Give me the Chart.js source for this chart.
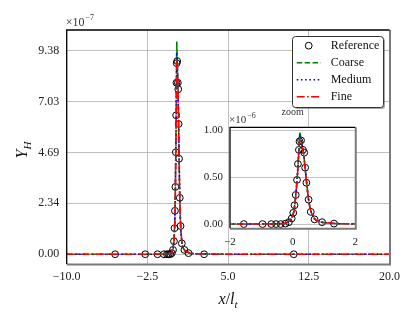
<!DOCTYPE html>
<html>
<head>
<meta charset="utf-8">
<script src="https://cdn.jsdelivr.net/npm/chart.js@4.4.1/dist/chart.umd.min.js"></script>
<style>
html,body{margin:0;padding:0;background:#fff;}
#wrap{position:relative;width:416px;height:323px;}
canvas{position:absolute;}
</style>
</head>
<body>
<div id="wrap">
<canvas id="main" width="416" height="323" style="left:0;top:0"></canvas>
<canvas id="inset" width="180" height="150" style="left:185px;top:100px"></canvas>
</div>
<script>
// ---- data (Y_H in units of 1e-6) ----
const refX = [-5.5, -2.7, -1.56, -0.96, -0.68, -0.53, -0.38, -0.23, -0.12, -0.03, 0.02, 0.06, 0.10, 0.14, 0.17, 0.20, 0.22, 0.27, 0.33, 0.37, 0.40, 0.44, 0.51, 0.58, 0.70, 0.94, 1.32, 2.77, 11.1];
const refY = [0, 0, 0, 0, 0, 0, 0, 0.005, 0.02, 0.06, 0.12, 0.20, 0.31, 0.47, 0.64, 0.79, 0.88, 0.89, 0.79, 0.76, 0.60, 0.44, 0.26, 0.13, 0.05, 0.02, 0.005, 0, 0];

const curveX = [-10, -5, -2, -1, -0.5, -0.3, -0.2, -0.1, -0.05, 0, 0.05, 0.1, 0.15, 0.2, 0.23, 0.27, 0.3, 0.35, 0.4, 0.45, 0.5, 0.55, 0.6, 0.7, 0.8, 1.0, 1.5, 2, 5, 10, 20];
const coarseY = [0, 0, 0, 0.001, 0.003, 0.006, 0.012, 0.035, 0.06, 0.09, 0.16, 0.31, 0.52, 0.80, 0.98, 0.90, 0.85, 0.76, 0.60, 0.43, 0.28, 0.18, 0.12, 0.055, 0.03, 0.015, 0.004, 0.002, 0, 0, 0];
const mediumY = [0, 0, 0, 0.001, 0.003, 0.006, 0.011, 0.03, 0.055, 0.085, 0.15, 0.30, 0.50, 0.78, 0.93, 0.89, 0.84, 0.76, 0.60, 0.43, 0.28, 0.18, 0.12, 0.055, 0.03, 0.015, 0.004, 0.002, 0, 0, 0];
const fineY = [0, 0, 0, 0.001, 0.003, 0.006, 0.011, 0.03, 0.05, 0.08, 0.14, 0.29, 0.49, 0.77, 0.90, 0.88, 0.84, 0.75, 0.59, 0.43, 0.28, 0.18, 0.12, 0.055, 0.03, 0.015, 0.004, 0.002, 0, 0, 0];

const seriesLabels = ['Reference', 'Coarse', 'Medium', 'Fine'];

// main axes ticks (y in units of 1e-7)
const mainXTicks = [-10, -2.5, 5, 12.5, 20];
const mainXTickLabels = ['\u221210.0', '\u22122.5', '5.0', '12.5', '20.0'];
const mainYTicks = [0, 2.345, 4.69, 7.035, 9.38];
const mainYTickLabels = ['0.00', '2.34', '4.69', '7.03', '9.38'];
// inset ticks (y in units of 1e-6)
const insetXTicks = [-2, 0, 2];
const insetXTickLabels = ['\u22122', '0', '2'];
const insetYTicks = [0, 0.5, 1.0];
const insetYTickLabels = ['0.00', '0.50', '1.00'];

// ---- styles ----
const SERIF = '"Liberation Serif", "Times New Roman", serif';
const styles = [
  {color: '#000000'},
  {color: '#008000', dash: [5.5, 2.4]},
  {color: '#0000ff', dash: [1.6, 2.6]},
  {color: '#ff0000', dash: [8, 2.4, 1.6, 2.4]}
];

function buildDatasets(scale) {
  const pts = (xs, ys) => xs.map((x, i) => ({x: x, y: ys[i] * scale}));
  return [
    {label: seriesLabels[0], data: pts(refX, refY), showLine: false, pointStyle: 'circle', pointRadius: 3.4,
     pointBorderColor: '#000', pointBackgroundColor: 'rgba(0,0,0,0)', pointBorderWidth: 1, order: 4},
    {label: seriesLabels[1], data: pts(curveX, coarseY), showLine: true, borderColor: styles[1].color,
     borderWidth: 1.6, borderDash: styles[1].dash, pointRadius: 0, order: 3},
    {label: seriesLabels[2], data: pts(curveX, mediumY), showLine: true, borderColor: styles[2].color,
     borderWidth: 1.6, borderDash: styles[2].dash, pointRadius: 0, order: 2},
    {label: seriesLabels[3], data: pts(curveX, fineY), showLine: true, borderColor: styles[3].color,
     borderWidth: 1.6, borderDash: styles[3].dash, pointRadius: 0, order: 1}
  ];
}

function spines(ctx, a) {
  ctx.save();
  ctx.strokeStyle = '#7a7a7a'; ctx.lineWidth = 2;
  ctx.beginPath(); ctx.moveTo(a.left, a.bottom + 0.5); ctx.lineTo(a.right + 0.5, a.bottom + 0.5); ctx.lineTo(a.right + 0.5, a.top); ctx.stroke();
  ctx.strokeStyle = '#000'; ctx.lineWidth = 1.3;
  ctx.beginPath(); ctx.moveTo(a.left, a.bottom); ctx.lineTo(a.left, a.top); ctx.lineTo(a.right, a.top); ctx.stroke();
  ctx.restore();
}

function offsetText(ctx, x, y, size, exp) {
  ctx.save();
  ctx.fillStyle = '#333'; ctx.textBaseline = 'alphabetic'; ctx.textAlign = 'left';
  ctx.font = size + 'px ' + SERIF;
  ctx.fillText('\u00d710', x, y);
  const w = ctx.measureText('\u00d710').width;
  ctx.font = Math.round(size * 0.7) + 'px ' + SERIF;
  ctx.fillText(exp, x + w + 1, y - size * 0.42);
  ctx.restore();
}

function roundRect(ctx, x, y, w, h, r) {
  ctx.beginPath();
  ctx.moveTo(x + r, y);
  ctx.arcTo(x + w, y, x + w, y + h, r);
  ctx.arcTo(x + w, y + h, x, y + h, r);
  ctx.arcTo(x, y + h, x, y, r);
  ctx.arcTo(x, y, x + w, y, r);
  ctx.closePath();
}

const mainDecor = {
  id: 'mainDecor',
  afterDraw(chart) {
    const ctx = chart.ctx, a = chart.chartArea;
    spines(ctx, a);
    offsetText(ctx, a.left - 1, 25.5, 12, '\u22127');
    // x label  x/l_t
    ctx.save();
    ctx.fillStyle = '#111'; ctx.textBaseline = 'alphabetic'; ctx.textAlign = 'left';
    const parts = [
      {t: 'x', f: 'italic 16px ' + SERIF, dy: 0},
      {t: '/', f: '16px ' + SERIF, dy: 0},
      {t: 'l', f: 'italic 16px ' + SERIF, dy: 0},
      {t: 't', f: 'italic 11px ' + SERIF, dy: 3.5}
    ];
    let tw = 0;
    parts.forEach(p => { ctx.font = p.f; p.w = ctx.measureText(p.t).width; tw += p.w; });
    let cx = (a.left + a.right) / 2 - tw / 2;
    parts.forEach(p => { ctx.font = p.f; ctx.fillText(p.t, cx, 304 + p.dy); cx += p.w; });
    ctx.restore();
    // y label Y_H (rotated)
    ctx.save();
    ctx.translate(27, 150);
    ctx.rotate(-Math.PI / 2);
    ctx.fillStyle = '#111'; ctx.textBaseline = 'alphabetic'; ctx.textAlign = 'left';
    ctx.font = 'italic 16px ' + SERIF; const wY = ctx.measureText('Y').width;
    ctx.font = 'italic 11px ' + SERIF; const wH = ctx.measureText('H').width;
    const sx = -(wY + wH) / 2;
    ctx.font = 'italic 16px ' + SERIF; ctx.fillText('Y', sx, 0);
    ctx.font = 'italic 11px ' + SERIF; ctx.fillText('H', sx + wY, 3.5);
    ctx.restore();
    // legend
    ctx.save();
    const lx = 292.5, ly = 36.5, lw = 91, lh = 71;
    roundRect(ctx, lx + 1.5, ly + 1.5, lw, lh, 3);
    ctx.fillStyle = 'rgba(0,0,0,0.35)'; ctx.fill();
    roundRect(ctx, lx, ly, lw, lh, 3);
    ctx.fillStyle = '#fff'; ctx.fill();
    ctx.strokeStyle = '#333'; ctx.lineWidth = 1; ctx.stroke();
    const rows = [45.7, 62.7, 79.7, 96.7];
    ctx.font = '12px ' + SERIF; ctx.textBaseline = 'middle'; ctx.fillStyle = '#111';
    chart.data.datasets.forEach((ds, i) => {
      const y = rows[i];
      if (i === 0) {
        ctx.beginPath(); ctx.arc(308.7, y, 3.4, 0, Math.PI * 2);
        ctx.strokeStyle = '#000'; ctx.lineWidth = 1; ctx.setLineDash([]); ctx.stroke();
      } else {
        ctx.beginPath(); ctx.moveTo(296.7, y); ctx.lineTo(320.7, y);
        ctx.strokeStyle = ds.borderColor; ctx.lineWidth = ds.borderWidth; ctx.setLineDash(ds.borderDash); ctx.stroke();
        ctx.setLineDash([]);
      }
      ctx.fillText(ds.label, 330.7, y + 0.5);
    });
    ctx.restore();
  }
};

const insetDecor = {
  id: 'insetDecor',
  beforeDraw(chart) {
    const ctx = chart.ctx, a = chart.chartArea;
    ctx.save(); ctx.fillStyle = '#fff';
    ctx.fillRect(a.left, a.top, a.right - a.left, a.bottom - a.top);
    ctx.restore();
  },
  afterDraw(chart) {
    const ctx = chart.ctx, a = chart.chartArea;
    spines(ctx, a);
    offsetText(ctx, a.left - 1, 22.5, 11, '\u22126');
    ctx.save();
    ctx.font = '10px ' + SERIF; ctx.fillStyle = '#333'; ctx.textAlign = 'center'; ctx.textBaseline = 'alphabetic';
    ctx.fillText('zoom', (a.left + a.right) / 2, 15);
    ctx.restore();
  }
};

function tickFont(size) { return {family: SERIF, size: size}; }

new Chart(document.getElementById('main'), {
  type: 'scatter',
  data: {datasets: buildDatasets(10)},
  options: {
    responsive: false, animation: false, events: [],
    plugins: {legend: {display: false}, tooltip: {enabled: false}},
    layout: {padding: {left: 0, top: 30, right: 26.5, bottom: 0}},
    scales: {
      x: {
        type: 'linear', min: -10, max: 20,
        afterBuildTicks: s => { s.ticks = mainXTicks.map(v => ({value: v})); },
        afterFit: s => { s.height = 59; },
        ticks: {autoSkip: false, maxRotation: 0, padding: 6, color: '#222', font: tickFont(12),
          callback: v => mainXTickLabels[mainXTicks.indexOf(v)]},
        grid: {color: '#b0b0b0', lineWidth: 0.8, drawTicks: false},
        border: {display: false}
      },
      y: {
        type: 'linear', min: -0.45, max: 10.33,
        afterBuildTicks: s => { s.ticks = mainYTicks.map(v => ({value: v})); },
        afterFit: s => { s.width = 66.7; },
        ticks: {autoSkip: false, padding: 7.5, color: '#222', font: tickFont(12),
          callback: v => mainYTickLabels[mainYTicks.indexOf(v)]},
        grid: {color: '#b0b0b0', lineWidth: 0.8, drawTicks: false},
        border: {display: false}
      }
    }
  },
  plugins: [mainDecor]
});

new Chart(document.getElementById('inset'), {
  type: 'scatter',
  data: {datasets: buildDatasets(1)},
  options: {
    responsive: false, animation: false, events: [],
    plugins: {legend: {display: false}, tooltip: {enabled: false}},
    layout: {padding: {left: 0, top: 27.3, right: 5.7, bottom: 0}},
    scales: {
      x: {
        type: 'linear', min: -2, max: 2,
        afterBuildTicks: s => { s.ticks = insetXTicks.map(v => ({value: v})); },
        afterFit: s => { s.height = 21.7; },
        ticks: {autoSkip: false, maxRotation: 0, padding: 7, color: '#222', font: tickFont(11),
          callback: v => insetXTickLabels[insetXTicks.indexOf(v)]},
        grid: {display: false, drawTicks: false},
        border: {display: false}
      },
      y: {
        type: 'linear', min: -0.045, max: 1.03,
        afterBuildTicks: s => { s.ticks = insetYTicks.map(v => ({value: v})); },
        afterFit: s => { s.width = 45; },
        ticks: {autoSkip: false, padding: 7, color: '#222', font: tickFont(11),
          callback: v => insetYTickLabels[insetYTicks.indexOf(v)]},
        grid: {color: '#b0b0b0', lineWidth: 0.8, drawTicks: false},
        border: {display: false}
      }
    }
  },
  plugins: [insetDecor]
});
</script>
</body>
</html>
